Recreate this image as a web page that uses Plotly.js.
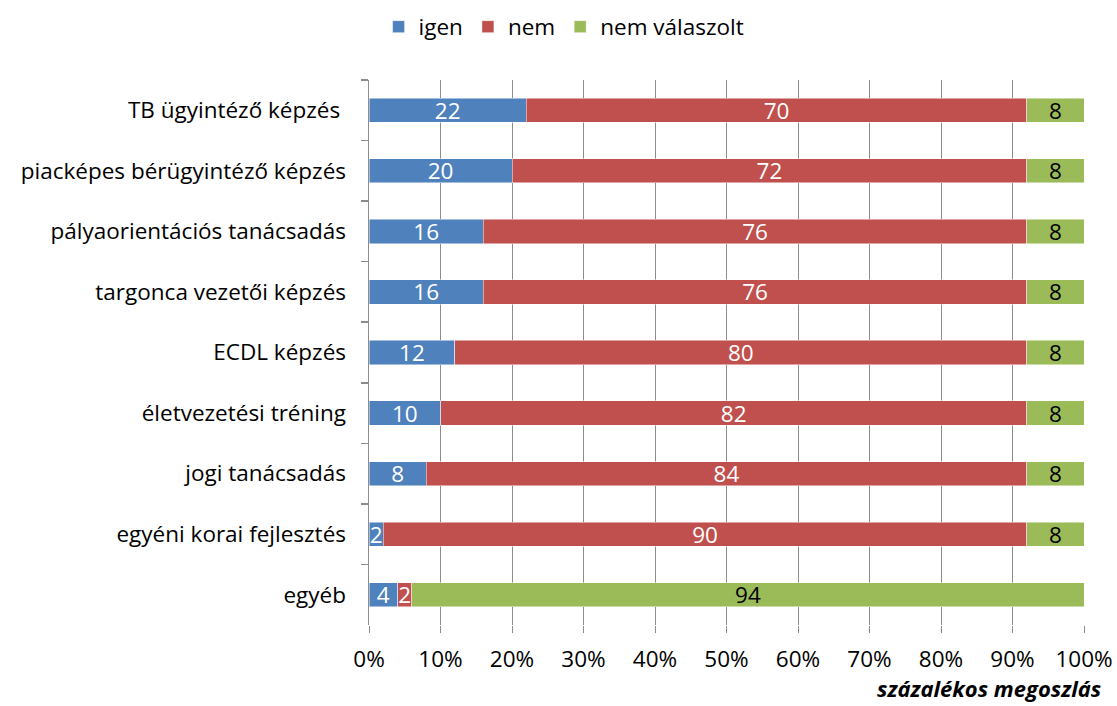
<!DOCTYPE html>
<html><head><meta charset="utf-8">
<script src="https://cdn.plot.ly/plotly-3.0.1.min.js"></script>
<style>body{margin:0;background:#fff}#c{width:1117px;height:706px}</style>
</head><body><div id="c"></div>
<script>
var categories = ["TB ügyintéző képzés ", "piacképes bérügyintéző képzés", "pályaorientációs tanácsadás", "targonca vezetői képzés", "ECDL képzés", "életvezetési tréning", "jogi tanácsadás", "egyéni korai fejlesztés", "egyéb"];
var igen = [22, 20, 16, 16, 12, 10, 8, 2, 4];
var nem = [70, 72, 76, 76, 80, 82, 84, 90, 2];
var nemValaszolt = [8, 8, 8, 8, 8, 8, 8, 8, 94];
var seriesNames = ["igen", "nem", "nem válaszolt"];
var tickVals = [0, 10, 20, 30, 40, 50, 60, 70, 80, 90, 100];
var tickText = ["0%", "10%", "20%", "30%", "40%", "50%", "60%", "70%", "80%", "90%", "100%"];
var xTitle = "százalékos megoszlás";

var FONT = "'Open Sans', sans-serif";
var FS = 22.5;
function mk(name, vals, color, txtColor) {
  return {
    type: 'bar', orientation: 'h', name: name,
    y: categories, x: vals,
    text: vals.map(String), textposition: 'inside', insidetextanchor: 'middle',
    textangle: 0, constraintext: 'none', cliponaxis: false,
    textfont: {family: FONT, size: FS, color: txtColor},
    marker: {color: color, line: {color: 'rgba(255,255,255,0.6)', width: 0.8}},
    hoverinfo: 'x+name'
  };
}
var data = [
  mk(seriesNames[0], igen, '#4f81bd', '#ffffff'),
  mk(seriesNames[1], nem, '#c0504d', '#ffffff'),
  mk(seriesNames[2], nemValaszolt, '#9bbb59', '#000000')
];
var layout = {
  width: 1117, height: 706,
  margin: {l: 369, r: 33, t: 80, b: 81},
  barmode: 'stack', bargap: 0.6,
  paper_bgcolor: '#fff', plot_bgcolor: '#fff',
  font: {family: FONT, size: FS, color: '#000'},
  showlegend: true,
  legend: {orientation: 'h', x: 0.505, xanchor: 'center', xref: 'container', y: 1 - 27/706, yref: 'container', yanchor: 'middle',
           font: {family: FONT, size: FS, color: '#000'}, itemwidth: 30, traceorder: 'normal'},
  xaxis: {
    range: [0, 100], tickvals: tickVals, ticktext: tickText,
    showgrid: true, gridcolor: '#8c8c8c', gridwidth: 1,
    zeroline: false, showline: false,
    ticks: 'outside', ticklen: 7, tickcolor: '#8c8c8c', tickwidth: 1,
    tickfont: {family: FONT, size: FS, color: '#000'}, ticklabelstandoff: 7
  },
  yaxis: {
    autorange: 'reversed', type: 'category',
    showline: true, linecolor: '#8c8c8c', linewidth: 1.5,
    ticks: 'outside', ticklen: 7, tickcolor: '#8c8c8c', tickwidth: 1.5,
    tickson: 'boundaries', showgrid: false,
    tickfont: {family: FONT, size: FS, color: '#000'}, ticklabelstandoff: 17
  },
  annotations: [{
    text: '<b><i>' + xTitle + '</i></b>', xref: 'paper', yref: 'paper',
    x: 1.0265, xanchor: 'right', y: -0.115, yanchor: 'middle', showarrow: false,
    font: {family: FONT, size: 22, color: '#000'}
  }]
};
Plotly.newPlot('c', data, layout, {displayModeBar: false, staticPlot: true});
</script></body></html>
